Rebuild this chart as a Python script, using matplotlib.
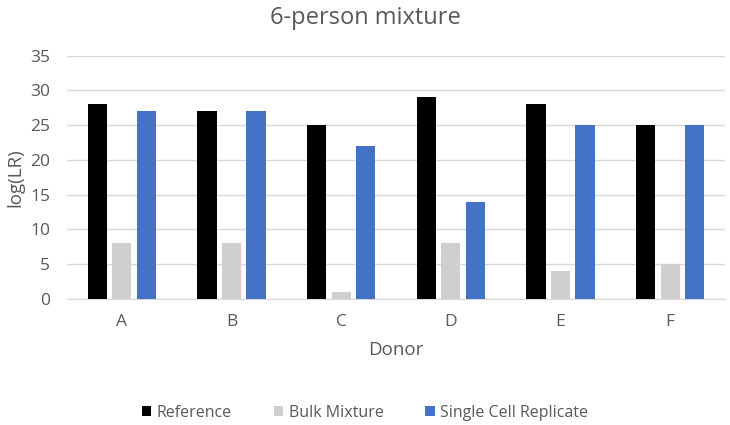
import matplotlib
matplotlib.use("Agg")
import matplotlib.pyplot as plt
import numpy as np

plt.rcParams['font.family'] = ['Open Sans', 'DejaVu Sans']

donors = ["A", "B", "C", "D", "E", "F"]
reference = [28, 27, 25, 29, 28, 25]
bulk_mixture = [8, 8, 1, 8, 4, 5]
single_cell = [27, 27, 22, 14, 25, 25]
series_names = ["Reference", "Bulk Mixture", "Single Cell Replicate"]
colors = ["#000000", "#D0CECE", "#4472C4"]

fig = plt.figure(figsize=(7.3, 4.25), dpi=100)
ax = fig.add_axes([67/730, 1 - 299/425, (725 - 67)/730, (299 - 55.7)/425])

x = np.arange(len(donors))
w = 0.175
step = 0.223
for i, (vals, c, name) in enumerate(zip([reference, bulk_mixture, single_cell], colors, series_names)):
    ax.bar(x + (i - 1) * step, vals, width=w, color=c, label=name, zorder=3)

ax.set_xlim(-0.5, len(donors) - 0.5)
ax.set_ylim(0, 35)
ax.set_yticks(range(0, 36, 5))
ax.set_xticks(x)
ax.set_xticklabels(donors)
ax.grid(axis='y', color='#D9D9D9', linewidth=1, zorder=0)
for s in ['top', 'right', 'left']:
    ax.spines[s].set_visible(False)
ax.spines['bottom'].set_color('#D9D9D9')
ax.tick_params(axis='both', length=0, colors='#595959', labelsize=12.5)
ax.tick_params(axis='x', pad=11)
ax.tick_params(axis='y', pad=12)

ax.set_xlabel("Donor", fontsize=13.5, color='#595959', labelpad=8)
ax.set_ylabel("log(LR)", fontsize=13.5, color='#595959', labelpad=4)
fig.text(0.5, 1 - 18/425, "6-person mixture", ha='center', va='center', fontsize=17, color='#595959')

leg = fig.legend(loc='center', bbox_to_anchor=(0.5, 1 - 413/425), ncol=3, frameon=False,
                 fontsize=11.5, handlelength=0.6, handleheight=0.6, columnspacing=2.6, handletextpad=0.35)
for t in leg.get_texts():
    t.set_color('#595959')

fig.savefig("out.png", dpi=100)
